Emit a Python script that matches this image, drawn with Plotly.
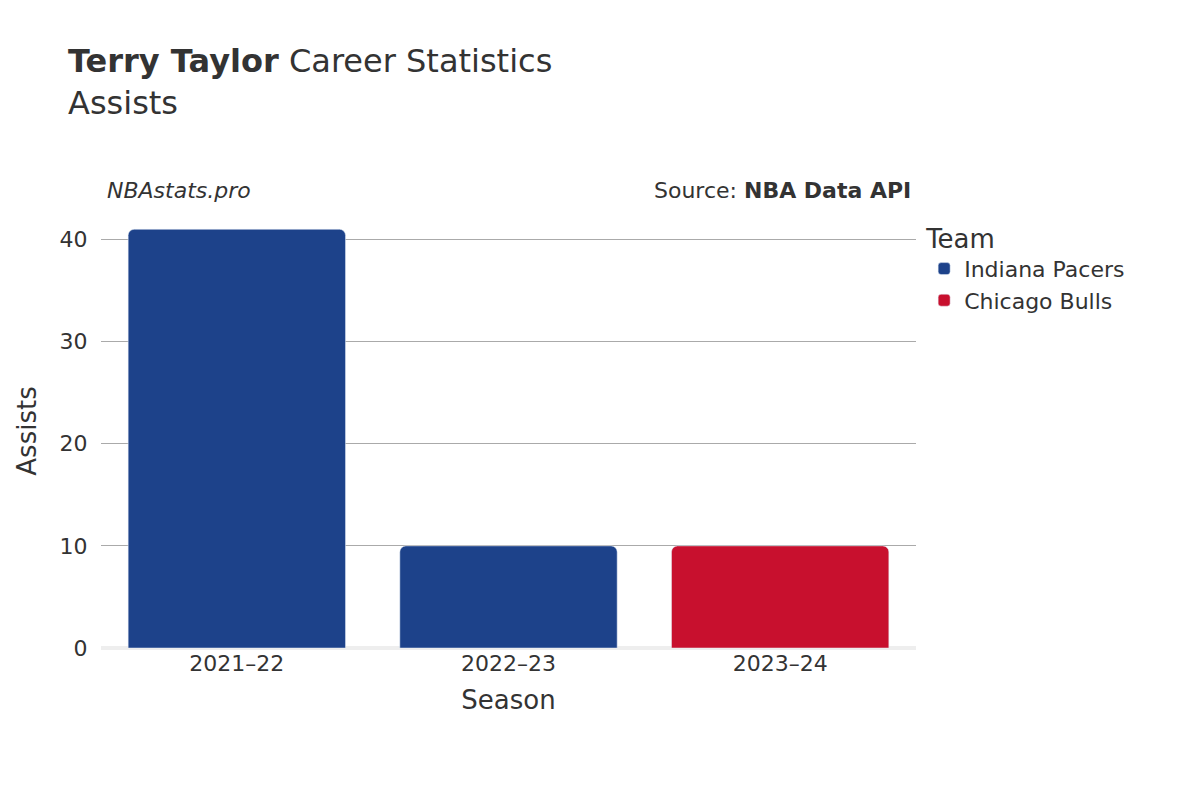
import plotly.graph_objects as go

seasons = ["2021–22", "2022–23", "2023–24"]
teams = ["Indiana Pacers", "Indiana Pacers", "Chicago Bulls"]
assists = [41, 10, 10]
team_colors = {"Indiana Pacers": "#1d428a", "Chicago Bulls": "#c8102e"}

fig = go.Figure()
for team in ["Indiana Pacers", "Chicago Bulls"]:
    xs = [s for s, t in zip(seasons, teams) if t == team]
    ys = [a for a, t in zip(assists, teams) if t == team]
    fig.add_trace(go.Bar(x=xs, y=ys, name=team, marker_color=team_colors[team],
                         width=0.8))

fig.update_layout(
    width=1200, height=800,
    barmode="relative", barcornerradius=6,
    font=dict(family="DejaVu Sans", color="#333", size=20),
    plot_bgcolor="white", paper_bgcolor="white",
    margin=dict(l=93, r=292, t=206, b=160),
    title=dict(text="<b>Terry Taylor</b> Career Statistics<br>Assists",
               x=0.05, xanchor="left", y=0.92, yanchor="top",
               font=dict(size=32)),
    legend=dict(title=dict(text="Team", font=dict(size=26)),
                x=1.01, y=1.0, yanchor="top", font=dict(size=22)),
    xaxis=dict(title=dict(text="Season", font=dict(size=26)),
               categoryorder="array", categoryarray=seasons,
               tickfont=dict(size=22)),
    yaxis=dict(title=dict(text="Assists", font=dict(size=26)),
               range=[0, 42.5], dtick=10, gridcolor="#aaa",
               ticks="outside", ticklen=8, tickcolor="white",
               zeroline=True, zerolinecolor="#eee", zerolinewidth=4,
               tickfont=dict(size=22)),
)
fig.add_annotation(text="<i>NBAstats.pro</i>", xref="paper", yref="paper",
                   x=0.005, y=1.02, xanchor="left", yanchor="bottom",
                   showarrow=False, font=dict(size=22))
fig.add_annotation(text="Source: <b>NBA Data API</b>", xref="paper", yref="paper",
                   x=0.996, y=1.02, xanchor="right", yanchor="bottom",
                   showarrow=False, font=dict(size=22))
fig.write_html("out.html")
